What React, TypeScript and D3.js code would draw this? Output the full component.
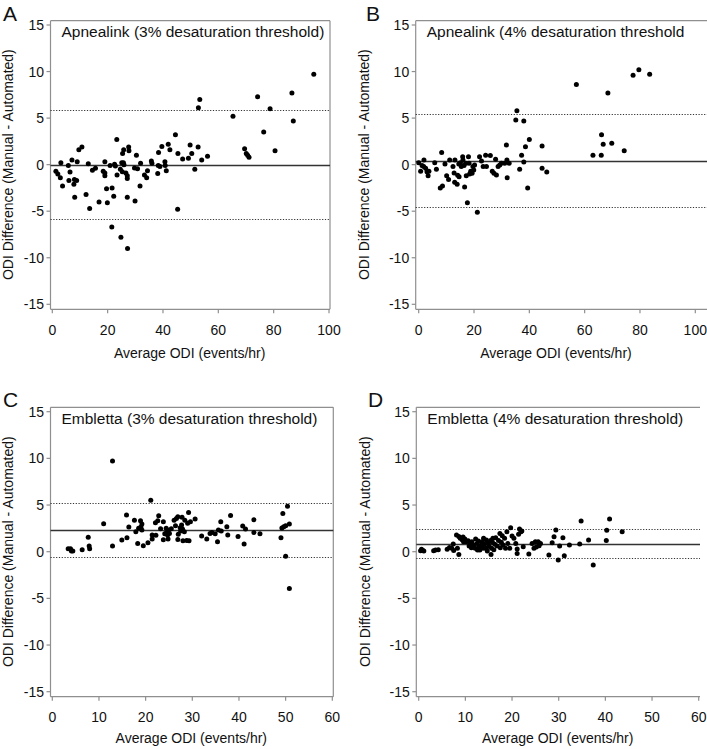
import React from "react";
import * as d3 from "d3";

// ---------- DATA ----------
const yTickValues = [-15, -10, -5, 0, 5, 10, 15];
const xTicksApnealink = [0, 20, 40, 60, 80, 100];
const xTicksEmbletta = [0, 10, 20, 30, 40, 50, 60];

const panelLetters = ["A", "B", "C", "D"];
const panelTitles = [
  "Apnealink (3% desaturation threshold)",
  "Apnealink (4% desaturation threshold",
  "Embletta (3% desaturation threshold)",
  "Embletta (4% desaturation threshold)",
];
const meanDiff = [0, 0.42, 2.28, 0.86];
const upperLoA = [5.9, 5.45, 5.2, 2.45];
const lowerLoA = [-5.85, -4.6, -0.6, -0.7];
const xAxisTitle = "Average ODI (events/hr)";
const yAxisTitle = "ODI Difference (Manual - Automated)";

const apnealink3: [number, number][] = [
  [1.3, -0.7], [2.0, -1.0], [3.1, 0.2], [2.9, -1.4], [3.7, -2.3], [5.8, -0.1], [6.4, -0.8], [6.0, -1.7],
  [7.1, 0.5], [8.0, -1.6], [8.8, -1.7], [7.8, -2.1], [8.1, -3.5], [9.0, 0.3], [9.6, 1.6], [10.7, 1.9],
  [12.2, -3.2], [13.0, 0.1], [13.5, -4.7], [14.5, -0.6], [15.6, -0.4], [16.9, -4.0], [19.0, 0.3],
  [18.4, -0.7], [19.0, -0.9], [19.0, -1.2], [19.6, -2.6], [19.9, -4.1], [20.9, -0.1], [21.6, -2.5],
  [22.2, -3.4], [22.5, 0.05], [23.3, 2.7], [22.8, -0.15], [23.4, -1.1], [21.5, -6.7], [24.8, -7.8],
  [27.2, -9.0], [24.6, -0.5], [25.1, 0.2], [25.7, 0.2], [25.9, 0.0], [25.4, 1.2], [25.8, 1.6],
  [25.3, -0.75], [26.6, -0.9], [27.1, -1.2], [27.1, -1.5], [27.6, 1.9], [27.7, 1.5], [27.1, -3.5],
  [30.4, 1.0], [29.7, -0.35], [30.8, -0.45], [31.7, -2.3], [29.9, -3.9], [31.9, 0.15], [33.3, -1.1],
  [34.1, -1.4], [34.4, -0.65], [35.8, 0.4], [36.0, 0.15], [38.1, -0.95], [38.3, -0.1], [38.9, -0.2],
  [38.4, 1.3], [39.6, 1.95], [40.7, 0.3], [40.8, -0.1], [41.2, -0.65], [41.9, 2.2], [42.5, 1.6],
  [44.5, 3.2], [45.3, -4.8], [45.4, 1.2], [47.1, 0.6], [49.2, 0.7], [49.8, 2.1], [50.4, 1.2],
  [51.5, -0.5], [52.7, 1.9], [52.8, 6.1], [53.3, 7.0], [54.0, 0.5], [56.1, 0.9], [65.3, 5.2],
  [69.5, 1.7], [70.1, 1.2], [70.6, 1.0], [71.1, 0.8], [74.2, 7.3], [76.4, 3.5], [78.7, 6.0],
  [80.5, 1.5], [86.6, 7.7], [87.1, 4.7], [94.5, 9.7],
];

const apnealink4: [number, number][] = [
  [0.0, 0.2], [0.7, -0.7], [1.2, -0.1], [1.9, 0.5], [1.8, -0.2], [2.5, -0.4], [3.0, -0.75], [3.4, -1.2],
  [3.7, -0.7], [5.8, 0.2], [6.4, -0.5], [7.8, -2.5], [8.6, -2.3], [8.3, 1.3], [9.5, 0.07], [10.1, -1.2],
  [10.8, -1.6], [11.2, 0.5], [12.4, -0.2], [12.8, -0.9], [13.1, 0.5], [13.0, -1.9], [13.9, -2.1],
  [14.1, -1.15], [14.6, -1.3], [14.5, 0.07], [15.1, 0.2], [15.4, -0.2], [15.9, 0.86], [16.0, 0.5],
  [16.4, -0.1], [16.6, -2.4], [17.0, 0.14], [17.2, -1.2], [17.6, -4.1], [18.0, 0.86], [18.2, 0.14],
  [18.4, -1.0], [18.8, -0.7], [19.3, -0.93], [19.6, -0.2], [19.9, -0.57], [20.2, -0.04], [21.2, -5.1],
  [22.0, 0.86], [22.7, 0.4], [23.3, -0.2], [24.2, 1.0], [24.5, -0.2], [25.9, 0.97], [26.6, -0.7],
  [27.2, -0.93], [27.8, 0.57], [28.1, -1.1], [28.7, -0.2], [29.3, -0.04], [29.9, 0.14], [31.1, 0.14],
  [31.7, 2.1], [31.9, 0.5], [32.0, -1.4], [32.7, 0.14], [35.1, 4.8], [35.5, 5.8], [36.5, -0.5],
  [37.2, 1.0], [38.0, 4.7], [38.0, 0.29], [38.6, 1.93], [39.4, -2.5], [40.0, 2.7], [44.6, 2.0],
  [44.6, -0.4], [46.3, -0.8], [57.0, 8.6], [63.0, 1.0], [66.0, 1.0], [66.1, 3.2], [66.7, 2.2],
  [68.4, 7.7], [69.8, 2.3], [74.3, 1.5], [77.5, 9.6], [79.6, 10.2], [83.5, 9.7],
];

const embletta3: [number, number][] = [
  [3.4, 0.32], [3.9, 0.32], [4.1, 0.07], [4.4, 0.07], [6.4, 0.21], [7.7, 1.54], [7.9, 0.6], [8.0, 0.32],
  [11.0, 3.0], [12.9, 0.6], [12.9, 9.71], [14.9, 1.25], [15.9, 3.93], [16.0, 1.5], [16.4, 2.64],
  [17.6, 3.36], [17.9, 2.14], [18.3, 0.89], [18.5, 2.5], [18.9, 3.32], [19.0, 2.64], [19.2, 2.96],
  [19.2, 2.32], [19.5, 0.64], [20.5, 0.96], [21.1, 5.5], [21.4, 1.36], [21.4, 1.79], [22.1, 3.1],
  [22.2, 1.75], [22.6, 3.32], [22.8, 3.86], [23.2, 2.46], [23.8, 3.2], [23.8, 1.29], [24.1, 1.93],
  [24.4, 2.5], [24.5, 2.07], [24.7, 1.79], [24.8, 1.36], [24.9, 2.29], [25.1, 1.96], [25.5, 2.46],
  [26.1, 3.36], [26.4, 2.79], [26.6, 3.57], [26.9, 3.75], [26.9, 1.32], [27.0, 1.86], [27.4, 2.57],
  [27.5, 2.21], [27.7, 2.86], [27.8, 3.68], [27.9, 2.43], [28.0, 1.18], [28.3, 2.14], [28.4, 3.36],
  [28.8, 1.21], [29.0, 3.04], [29.2, 4.21], [29.3, 1.18], [29.6, 3.21], [30.6, 3.5], [32.0, 1.68],
  [33.1, 1.36], [33.8, 1.96], [34.2, 2.07], [34.9, 1.93], [35.4, 1.07], [35.6, 2.32], [36.1, 3.21],
  [36.2, 2.21], [37.4, 2.68], [37.6, 1.79], [38.2, 3.89], [39.8, 1.64], [40.8, 2.75], [41.1, 0.82],
  [41.4, 2.43], [43.2, 3.43], [43.2, 2.07], [44.5, 1.93], [49.0, 1.5], [49.2, 2.54], [49.4, 4.1],
  [49.6, 2.68], [50.0, 2.79], [50.0, -0.5], [50.4, 4.86], [50.8, 2.96], [50.8, -3.93],
];

const embletta4: [number, number][] = [
  [0.4, 0.1], [0.6, 0.25], [0.9, 0.14], [1.1, 0.07], [3.2, 0.1], [3.6, 0.18], [4.2, 0.2], [6.1, 0.25],
  [6.6, 0.46], [7.1, 0.36], [7.4, 0.82], [7.5, 0.14], [8.1, 1.79], [8.3, 0.36], [8.6, -0.29], [8.6, 1.64],
  [8.9, 1.43], [9.3, 1.29], [9.5, 1.57], [9.6, 1.07], [9.9, 1.36], [10.2, 1.07], [10.6, 1.18], [10.8, 0.6],
  [11.1, 0.86], [11.3, 0.43], [11.4, 1.07], [11.8, 0.71], [12.1, 0.36], [12.2, 1.36], [12.5, 0.89],
  [12.6, 0.18], [12.8, 1.14], [12.9, 0.54], [13.1, 0.18], [13.4, 0.71], [13.6, 1.07], [13.8, 0.36],
  [13.9, 1.43], [14.1, 0.79], [14.4, 0.36], [14.5, 1.25], [14.7, 0.07], [14.9, 0.89], [15.1, 0.57],
  [15.4, 1.21], [15.5, -0.29], [15.6, 0.36], [15.8, 1.0], [15.9, 1.43], [16.1, 0.21], [16.3, 0.79],
  [16.5, 1.5], [16.8, 0.6], [17.1, 1.21], [17.4, 1.96], [17.5, 0.43], [17.7, 1.0], [17.9, 1.71],
  [18.1, 0.71], [18.4, 1.43], [18.6, 0.36], [18.9, 2.14], [19.1, 0.89], [19.5, 0.36], [19.7, 2.57],
  [20.0, 1.68], [20.4, 1.43], [20.8, 0.89], [21.1, -0.18], [21.1, 0.29], [21.4, 1.86], [21.6, 2.43],
  [21.9, 2.14], [22.1, 2.21], [22.4, 0.54], [23.6, -0.25], [24.3, 0.89], [24.7, 0.36], [25.0, 1.07],
  [25.2, 0.5], [25.6, 1.07], [25.8, 0.64], [26.1, 0.89], [27.9, -0.36], [28.6, 0.96], [29.0, 1.61],
  [29.4, 2.32], [29.9, -0.89], [30.2, 0.61], [30.9, 1.5], [31.2, -0.43], [32.3, 0.71], [34.5, 0.82],
  [34.8, 3.29], [36.4, 1.25], [37.4, -1.43], [40.2, 1.21], [40.3, 2.29], [40.9, 3.5], [43.6, 2.14],
];

// ---------- LAYOUT ----------
type Geo = {
  l: number; t: number; r: number; b: number; rightBorder: boolean;
  xr: [number, number]; yr: [number, number]; xMax: number; xTicks: number[];
  letterX: number; letterY: number; yTitleX: number; xTitleY: number;
};

const geos: Geo[] = [
  { l: 50.5, t: 20.7, r: 330, b: 309.3, rightBorder: true, xr: [52.3, 329], yr: [304.3, 25], xMax: 100, xTicks: xTicksApnealink, letterX: 3, letterY: 21, yTitleX: 13, xTitleY: 358 },
  { l: 415.7, t: 20.7, r: 708, b: 309.3, rightBorder: false, xr: [418.7, 695.3], yr: [304.3, 25], xMax: 100, xTicks: xTicksApnealink, letterX: 366, letterY: 21, yTitleX: 369, xTitleY: 358 },
  { l: 50.5, t: 407.3, r: 333.3, b: 696.7, rightBorder: true, xr: [52.3, 332.3], yr: [691.7, 411.7], xMax: 60, xTicks: xTicksEmbletta, letterX: 3, letterY: 407, yTitleX: 13, xTitleY: 743 },
  { l: 416.3, t: 407.3, r: 700, b: 696.7, rightBorder: false, xr: [418.7, 698.7], yr: [691.7, 411.7], xMax: 60, xTicks: xTicksEmbletta, letterX: 368, letterY: 407, yTitleX: 369.5, xTitleY: 743 },
];

const datasets = [apnealink3, apnealink4, embletta3, embletta4];

const FONT = "'Liberation Sans', Arial, Helvetica, sans-serif";
const FRAME = "#8f8f8f";
const LINE = "#333";

function Panel({ i }: { i: number }) {
  const g = geos[i];
  const x = d3.scaleLinear().domain([0, g.xMax]).range(g.xr);
  const y = d3.scaleLinear().domain([-15, 15]).range(g.yr);
  const data = datasets[i];
  const yMid = (g.yr[0] + g.yr[1]) / 2;
  const xMid = (g.xr[0] + g.xr[1]) / 2 - 1;
  const snap = (v: number) => Math.round(v) + 0.5;
  return (
    <g>
      {/* frame */}
      <line x1={g.l} x2={g.r} y1={g.t} y2={g.t} stroke={FRAME} strokeWidth={1.2} />
      <line x1={g.l} x2={g.r} y1={g.b} y2={g.b} stroke={FRAME} strokeWidth={1.2} />
      <line x1={g.l} x2={g.l} y1={g.t} y2={g.b} stroke={FRAME} strokeWidth={1.2} />
      {g.rightBorder && <line x1={g.r} x2={g.r} y1={g.t} y2={g.b} stroke={FRAME} strokeWidth={1.2} />}
      {/* y ticks */}
      {yTickValues.map((v) => (
        <g key={"y" + v}>
          <line x1={g.l - 4} x2={g.l} y1={y(v)} y2={y(v)} stroke={FRAME} strokeWidth={1.2} />
          <text x={g.l - 6.5} y={y(v)} dy="0.36em" textAnchor="end" fontSize={14} fontFamily={FONT} fill="#111">
            {v}
          </text>
        </g>
      ))}
      {/* x ticks */}
      {g.xTicks.map((v) => (
        <g key={"x" + v}>
          <line x1={x(v)} x2={x(v)} y1={g.b} y2={g.b + 4} stroke={FRAME} strokeWidth={1.2} />
          <text x={x(v)} y={g.b + 25.5} textAnchor="middle" fontSize={14} fontFamily={FONT} fill="#111">
            {v}
          </text>
        </g>
      ))}
      {/* reference lines */}
      <line x1={g.l} x2={g.r} y1={snap(y(meanDiff[i]))} y2={snap(y(meanDiff[i]))} stroke={LINE} strokeWidth={1.3} />
      <line x1={g.l} x2={g.r} y1={snap(y(upperLoA[i]))} y2={snap(y(upperLoA[i]))} stroke={LINE} strokeWidth={1.2} strokeDasharray="1.2,1.6" />
      <line x1={g.l} x2={g.r} y1={snap(y(lowerLoA[i]))} y2={snap(y(lowerLoA[i]))} stroke={LINE} strokeWidth={1.2} strokeDasharray="1.2,1.6" />
      {/* points */}
      {data.map((d, k) => (
        <circle key={k} cx={x(d[0])} cy={y(d[1])} r={2.5} fill="#000" />
      ))}
      {/* titles */}
      <text x={g.l + 11} y={g.t + 16.6} fontSize={15.5} fontFamily={FONT} fill="#111">
        {panelTitles[i]}
      </text>
      <text x={g.letterX} y={g.letterY} fontSize={21} fontFamily={FONT} fill="#111">
        {panelLetters[i]}
      </text>
      <text x={xMid} y={g.xTitleY} textAnchor="middle" fontSize={14} fontFamily={FONT} fill="#111">
        {xAxisTitle}
      </text>
      <text
        transform={`translate(${g.yTitleX},${yMid}) rotate(-90)`}
        textAnchor="middle"
        fontSize={14}
        fontFamily={FONT}
        fill="#111"
      >
        {yAxisTitle}
      </text>
    </g>
  );
}

export default function App() {
  return (
    <svg
      width={707}
      height={749}
      style={{ position: "absolute", left: 0, top: 0, background: "#fff" }}
    >
      <rect width={707} height={749} fill="#fff" />
      {[0, 1, 2, 3].map((i) => (
        <Panel key={i} i={i} />
      ))}
    </svg>
  );
}
